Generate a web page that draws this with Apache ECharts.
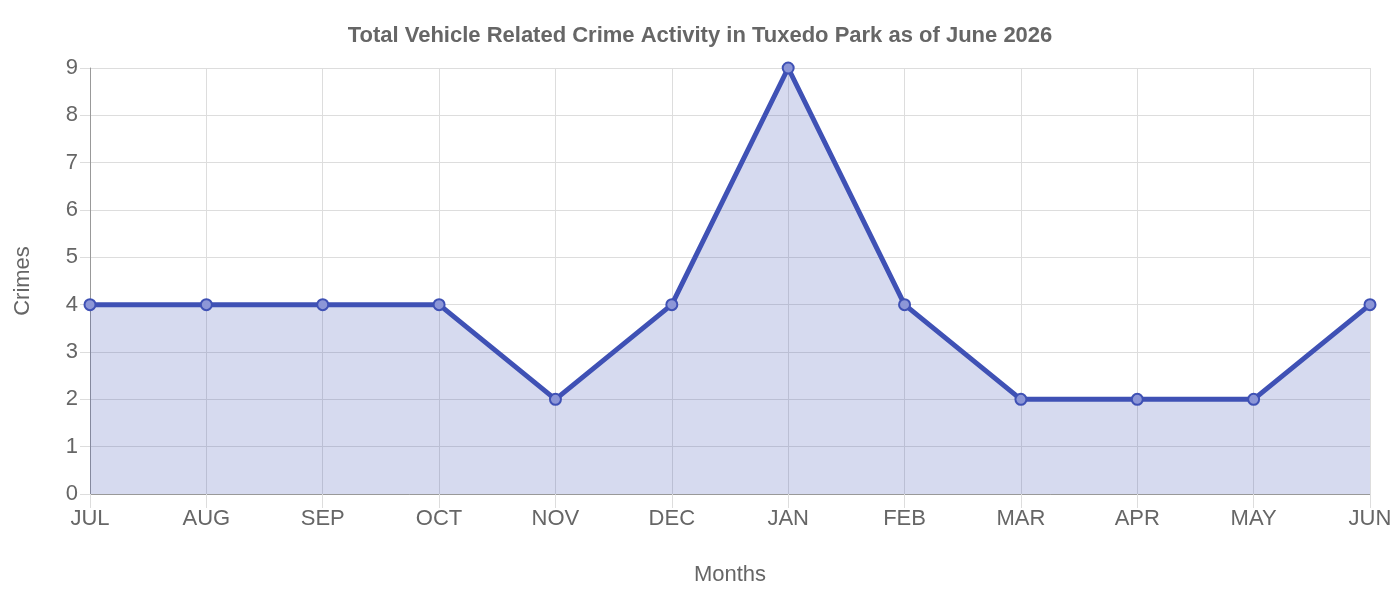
<!DOCTYPE html>
<html><head><meta charset="utf-8">
<script src="https://cdn.jsdelivr.net/npm/echarts@6/dist/echarts.min.js"></script>
<style>html,body{margin:0;padding:0;background:#fff}#c{width:1400px;height:600px}</style>
</head><body><div id="c"></div>
<script>
const months = ['JUL','AUG','SEP','OCT','NOV','DEC','JAN','FEB','MAR','APR','MAY','JUN'];
const crimes = [4,4,4,4,2,4,9,4,2,2,2,4];
const chart = echarts.init(document.getElementById('c'));
const font = 'Liberation Sans, Arial, sans-serif';
chart.setOption({
  animation:false,
  title:{text:'Total Vehicle Related Crime Activity in Tuxedo Park as of June 2026',left:'center',top:20,
    textStyle:{fontFamily:font,fontSize:22,fontWeight:'bold',color:'#666'}},
  grid:{left:90,right:30,top:68,bottom:106},
  xAxis:{type:'category',data:months,boundaryGap:false,
    name:'Months',nameLocation:'middle',nameGap:70,nameTextStyle:{fontFamily:font,fontSize:22,color:'#666'},
    axisLine:{lineStyle:{color:'#999'}},
    axisTick:{show:true,length:14,lineStyle:{color:'#ddd'}},
    axisLabel:{fontFamily:font,fontSize:22,color:'#666',margin:14,interval:0},
    splitLine:{show:true,lineStyle:{color:'#ddd'}}},
  yAxis:{type:'value',min:0,max:9,interval:1,
    name:'Crimes',nameLocation:'middle',nameGap:56,nameTextStyle:{fontFamily:font,fontSize:22,color:'#666'},
    axisLine:{show:true,lineStyle:{color:'#999'}},
    axisTick:{show:true,length:10,lineStyle:{color:'#ddd'}},
    axisLabel:{fontFamily:font,fontSize:22,color:'#666',margin:12},
    splitLine:{lineStyle:{color:'#ddd'}}},
  series:[{type:'line',data:crimes,symbol:'circle',symbolSize:11,
    lineStyle:{color:'#3f51b5',width:5},
    itemStyle:{color:'rgba(140,150,215,1)',borderColor:'#3f51b5',borderWidth:2},
    areaStyle:{color:'rgba(63,81,181,0.3)'}}]
});
</script></body></html>
